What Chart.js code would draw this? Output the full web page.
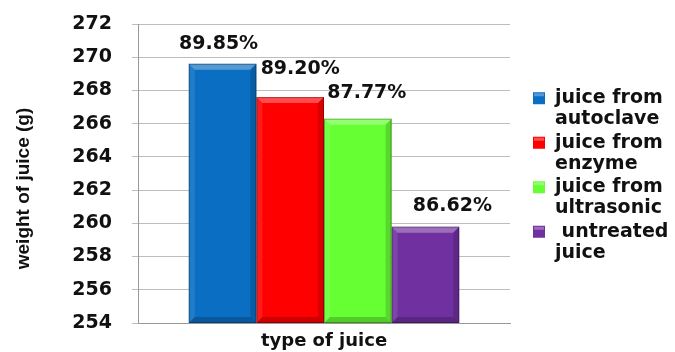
<!DOCTYPE html>
<html>
<head>
<meta charset="utf-8">
<script src="https://cdn.jsdelivr.net/npm/chart.js@4.4.1/dist/chart.umd.min.js"></script>
<style>
  html, body { margin: 0; padding: 0; background: #fff; }
  #wrap { width: 675px; height: 352px; }
</style>
</head>
<body>
<div id="wrap"><canvas id="juiceChart"></canvas></div>
<script>
// ── data ─────────────────────────────────────────
const categories = ['type of juice'];
const seriesNames = [
    ['juice from', 'autoclave'],
    ['juice from', 'enzyme'],
    ['juice from', 'ultrasonic'],
    [' untreated', 'juice']
];
const juiceWeight = [269.6, 267.6, 266.3, 259.8];
const yieldPct = ['89.85%', '89.20%', '87.77%', '86.62%'];
const barColours = ['#0a6fc2', '#ff0000', '#66ff33', '#7030a0'];
const yTicks = { min: 254, max: 272, step: 2 };
const yTitle = 'weight of juice (g)';

const FONT = 'DejaVu Sans';

// bevelled edges on each bar
const bevelPlugin = {
    id: 'bevel',
    afterDatasetsDraw(chart) {
        const ctx = chart.ctx;
        const b = 6;
        chart.data.datasets.forEach((ds, i) => {
            chart.getDatasetMeta(i).data.forEach(bar => {
                const { x, y, width, base } = bar.getProps(['x', 'y', 'width', 'base'], true);
                const l = x - width / 2, r = x + width / 2, t = y;
                const btm = Math.min(base, chart.chartArea.bottom);
                const face = (pts, fill) => {
                    ctx.beginPath();
                    ctx.moveTo(pts[0][0], pts[0][1]);
                    pts.slice(1).forEach(p => ctx.lineTo(p[0], p[1]));
                    ctx.closePath();
                    ctx.fillStyle = fill;
                    ctx.fill();
                };
                ctx.save();
                face([[l, t], [r, t], [r - b, t + b], [l + b, t + b]], 'rgba(255,255,255,0.3)');
                face([[l, t], [l + b, t + b], [l + b, btm - b], [l, btm]], 'rgba(255,255,255,0.1)');
                face([[r, t], [r, btm], [r - b, btm - b], [r - b, t + b]], 'rgba(0,0,0,0.15)');
                face([[l, btm], [l + b, btm - b], [r - b, btm - b], [r, btm]], 'rgba(0,0,0,0.2)');
                ctx.strokeStyle = 'rgba(0,0,0,0.3)';
                ctx.lineWidth = 1;
                ctx.strokeRect(l + 0.5, t + 0.5, width - 1, btm - t - 1);
                ctx.restore();
            });
        });
    }
};

// percentage text above each bar
const pctLabelPlugin = {
    id: 'pctLabels',
    afterDatasetsDraw(chart, args, opts) {
        const ctx = chart.ctx;
        ctx.save();
        ctx.font = 'bold 19px "' + FONT + '"';
        ctx.fillStyle = '#111';
        ctx.textAlign = 'center';
        ctx.textBaseline = 'middle';
        chart.data.datasets.forEach((ds, i) => {
            const bar = chart.getDatasetMeta(i).data[0];
            ctx.fillText(yieldPct[i], bar.x + opts.dx[i], bar.y - opts.dy[i]);
        });
        ctx.restore();
    }
};

// rotated y title, sitting a little below the middle of the plot
const yTitlePlugin = {
    id: 'yTitle',
    afterDraw(chart, args, opts) {
        const ctx = chart.ctx;
        const area = chart.chartArea;
        ctx.save();
        ctx.translate(opts.x, (area.top + area.bottom) / 2 + opts.shift);
        ctx.rotate(-Math.PI / 2);
        ctx.font = 'bold 19px "Liberation Sans"';
        ctx.fillStyle = '#111';
        ctx.textAlign = 'center';
        ctx.textBaseline = 'middle';
        ctx.fillText(yTitle, 0, 0);
        ctx.restore();
    }
};

// legend on the right, two-line labels with the swatch beside the first line
const sideLegendPlugin = {
    id: 'sideLegend',
    afterDraw(chart, args, opts) {
        const ctx = chart.ctx;
        const area = chart.chartArea;
        const items = chart.data.datasets;
        const blockH = (items.length - 1) * opts.itemGap + opts.lineGap;
        let y = (area.top + area.bottom) / 2 + opts.shift - blockH / 2;
        const boxX = area.right + opts.gap;
        ctx.save();
        ctx.font = 'bold 19px "' + FONT + '"';
        ctx.textBaseline = 'middle';
        ctx.textAlign = 'left';
        items.forEach(ds => {
            ctx.fillStyle = ds.backgroundColor;
            ctx.fillRect(boxX, y - 6, 12, 12);
            ctx.fillStyle = 'rgba(255,255,255,0.3)';
            ctx.fillRect(boxX + 1, y - 5, 10, 3);
            ctx.fillStyle = '#111';
            ds.label.forEach((line, k) => {
                ctx.fillText(line, boxX + 22, y + k * opts.lineGap);
            });
            y += opts.itemGap;
        });
        ctx.restore();
    }
};

new Chart(document.getElementById('juiceChart'), {
    type: 'bar',
    data: {
        labels: categories,
        datasets: juiceWeight.map((v, i) => ({
            label: seriesNames[i],
            data: [v],
            backgroundColor: barColours[i],
            borderWidth: 0
        }))
    },
    plugins: [bevelPlugin, pctLabelPlugin, yTitlePlugin, sideLegendPlugin],
    options: {
        responsive: true,
        maintainAspectRatio: false,
        animation: false,
        layout: { padding: { top: 0, right: 165, bottom: 0, left: 72 } },
        datasets: { bar: { categoryPercentage: 0.727, barPercentage: 1.0 } },
        plugins: {
            tooltip: { enabled: false },
            legend: { display: false },
            pctLabels: { dx: [-4, 10, 9, 27], dy: [20, 28, 26, 21] },
            yTitle: { x: 24, shift: 15 },
            sideLegend: { gap: 23, lineGap: 21, itemGap: 44.5, shift: 2 }
        },
        scales: {
            x: {
                grid: { display: false },
                border: { display: true, color: '#999' },
                ticks: {
                    color: '#111',
                    padding: 0,
                    font: { family: FONT, size: 18, weight: 'bold' }
                },
                afterFit(scale) {
                    scale.height = 29;
                }
            },
            y: {
                min: yTicks.min,
                max: yTicks.max,
                grid: { color: '#bdbdbd', tickLength: 6 },
                border: { display: true, color: '#999' },
                ticks: {
                    stepSize: yTicks.step,
                    padding: 20,
                    color: '#111',
                    font: { family: FONT, size: 19, weight: 'bold' }
                },
                afterFit(scale) {
                    scale.width = 66;
                    scale.paddingTop = 24;
                    scale.paddingBottom = 12;
                }
            }
        }
    }
});
</script>
</body>
</html>
